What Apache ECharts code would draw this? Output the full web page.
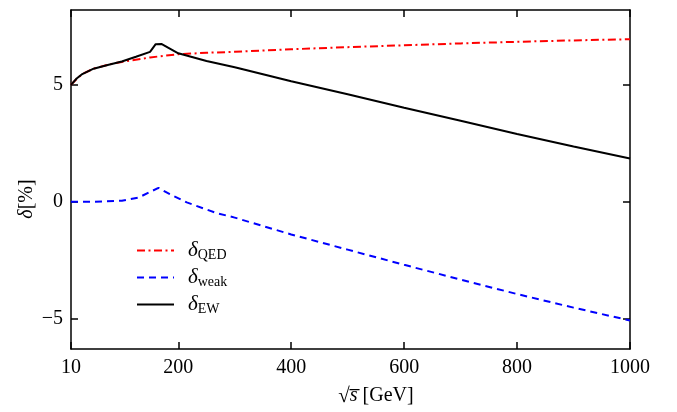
<!DOCTYPE html>
<html>
<head>
<meta charset="utf-8">
<script src="https://cdn.jsdelivr.net/npm/echarts@6/dist/echarts.min.js"></script>
<style>
html, body { margin: 0; padding: 0; background: #fff; }
#chart { width: 677px; height: 412px; }
</style>
</head>
<body>
<div id="chart"></div>
<script>
// sqrt(s) in GeV and corrections in %
const qedX = [10, 20, 30, 50, 75, 100, 150, 200, 250, 300, 400, 500, 600, 700, 800, 900, 1000];
const qedY = [5.0, 5.25, 5.46, 5.69, 5.86, 5.98, 6.17, 6.31, 6.37, 6.41, 6.52, 6.61, 6.69, 6.77, 6.84, 6.9, 6.95];

const weakX = [10, 50, 100, 130, 150, 165, 185, 215, 267, 300, 400, 500, 600, 700, 800, 900, 1000];
const weakY = [0.0, 0.0, 0.04, 0.18, 0.42, 0.59, 0.32, -0.03, -0.48, -0.68, -1.4, -2.05, -2.7, -3.33, -3.95, -4.53, -5.08];

const ewX = [10, 20, 30, 50, 75, 100, 125, 150, 160, 170, 185, 200, 250, 300, 350, 400, 500, 600, 700, 800, 900, 1000];
const ewY = [5.0, 5.27, 5.46, 5.69, 5.85, 6.0, 6.2, 6.41, 6.74, 6.75, 6.55, 6.35, 6.02, 5.75, 5.45, 5.15, 4.6, 4.02, 3.46, 2.9, 2.36, 1.85];

const xTicks = [10, 200, 400, 600, 800, 1000];
const yTicks = [-5, 0, 5];

const zip = (xs, ys) => xs.map((x, i) => [x, ys[i]]);
const serif = 'Liberation Serif';

var myChart = echarts.init(document.getElementById('chart'));

const frameLine = { onZero: false, lineStyle: { color: '#000', width: 1.5 } };
const xBase = {
    type: 'value', min: 10, max: 1000,
    splitLine: { show: false },
    axisLine: frameLine,
    axisTick: { inside: true, length: 7, customValues: xTicks, lineStyle: { color: '#000', width: 1.5 } }
};
const yBase = {
    type: 'value', min: -6.3, max: 8.2,
    splitLine: { show: false },
    axisLine: frameLine,
    axisTick: { inside: true, length: 7, customValues: yTicks, lineStyle: { color: '#000', width: 1.5 } }
};

myChart.setOption({
    animation: false,
    grid: { left: 71, right: 47, top: 10, bottom: 63 },
    xAxis: [
        Object.assign({}, xBase, {
            position: 'bottom',
            axisLabel: {
                customValues: xTicks, margin: 9, color: '#000', fontFamily: serif, fontSize: 20,
                formatter: v => String(v)
            }
        }),
        Object.assign({}, xBase, { position: 'top', axisLabel: { show: false } })
    ],
    yAxis: [
        Object.assign({}, yBase, {
            position: 'left',
            axisLabel: {
                customValues: yTicks, margin: 8, color: '#000', fontFamily: serif, fontSize: 20,
                formatter: v => String(v).replace('-', '\u2212')
            }
        }),
        Object.assign({}, yBase, { position: 'right', axisLabel: { show: false } })
    ],
    legend: {
        orient: 'vertical',
        left: 136, top: 240, padding: 0,
        itemWidth: 37, itemHeight: 14, itemGap: 5,
        itemStyle: { opacity: 0 },
        data: ['QED', 'weak', 'EW'],
        formatter: name => '{d|δ}{s|' + name + '}',
        textStyle: {
            color: '#000',
            rich: {
                d: { fontFamily: serif, fontStyle: 'italic', fontSize: 21, color: '#000', padding: [0, 0, 0, 9] },
                s: { fontFamily: serif, fontSize: 14, color: '#000', padding: [9, 0, 0, 0] }
            }
        }
    },
    graphic: [
        {
            type: 'text', x: 376, y: 396,
            style: {
                text: '{r|√}{i|s̅}{n| [GeV]}',
                align: 'center', verticalAlign: 'middle',
                rich: {
                    r: { fontFamily: serif, fontSize: 21, fill: '#000' },
                    i: { fontFamily: serif, fontStyle: 'italic', fontSize: 20, fill: '#000' },
                    n: { fontFamily: serif, fontSize: 20, fill: '#000' }
                }
            }
        },
        {
            type: 'text', x: 27, y: 199, rotation: Math.PI / 2,
            style: {
                text: '{i|δ}{n|[%]}',
                align: 'center', verticalAlign: 'middle',
                rich: {
                    i: { fontFamily: serif, fontStyle: 'italic', fontSize: 20, fill: '#000' },
                    n: { fontFamily: serif, fontSize: 20, fill: '#000' }
                }
            }
        }
    ],
    series: [
        {
            name: 'QED', type: 'line', showSymbol: false, symbol: 'none',
            data: zip(qedX, qedY),
            lineStyle: { color: '#ff0000', width: 2, type: [8, 3.5, 2, 3.5] },
            itemStyle: { color: '#ff0000' }
        },
        {
            name: 'weak', type: 'line', showSymbol: false, symbol: 'none',
            data: zip(weakX, weakY),
            lineStyle: { color: '#0000ff', width: 2, type: [7, 5] },
            itemStyle: { color: '#0000ff' }
        },
        {
            name: 'EW', type: 'line', showSymbol: false, symbol: 'none',
            data: zip(ewX, ewY),
            lineStyle: { color: '#000', width: 2, type: 'solid' },
            itemStyle: { color: '#000' }
        }
    ]
});
</script>
</body>
</html>
